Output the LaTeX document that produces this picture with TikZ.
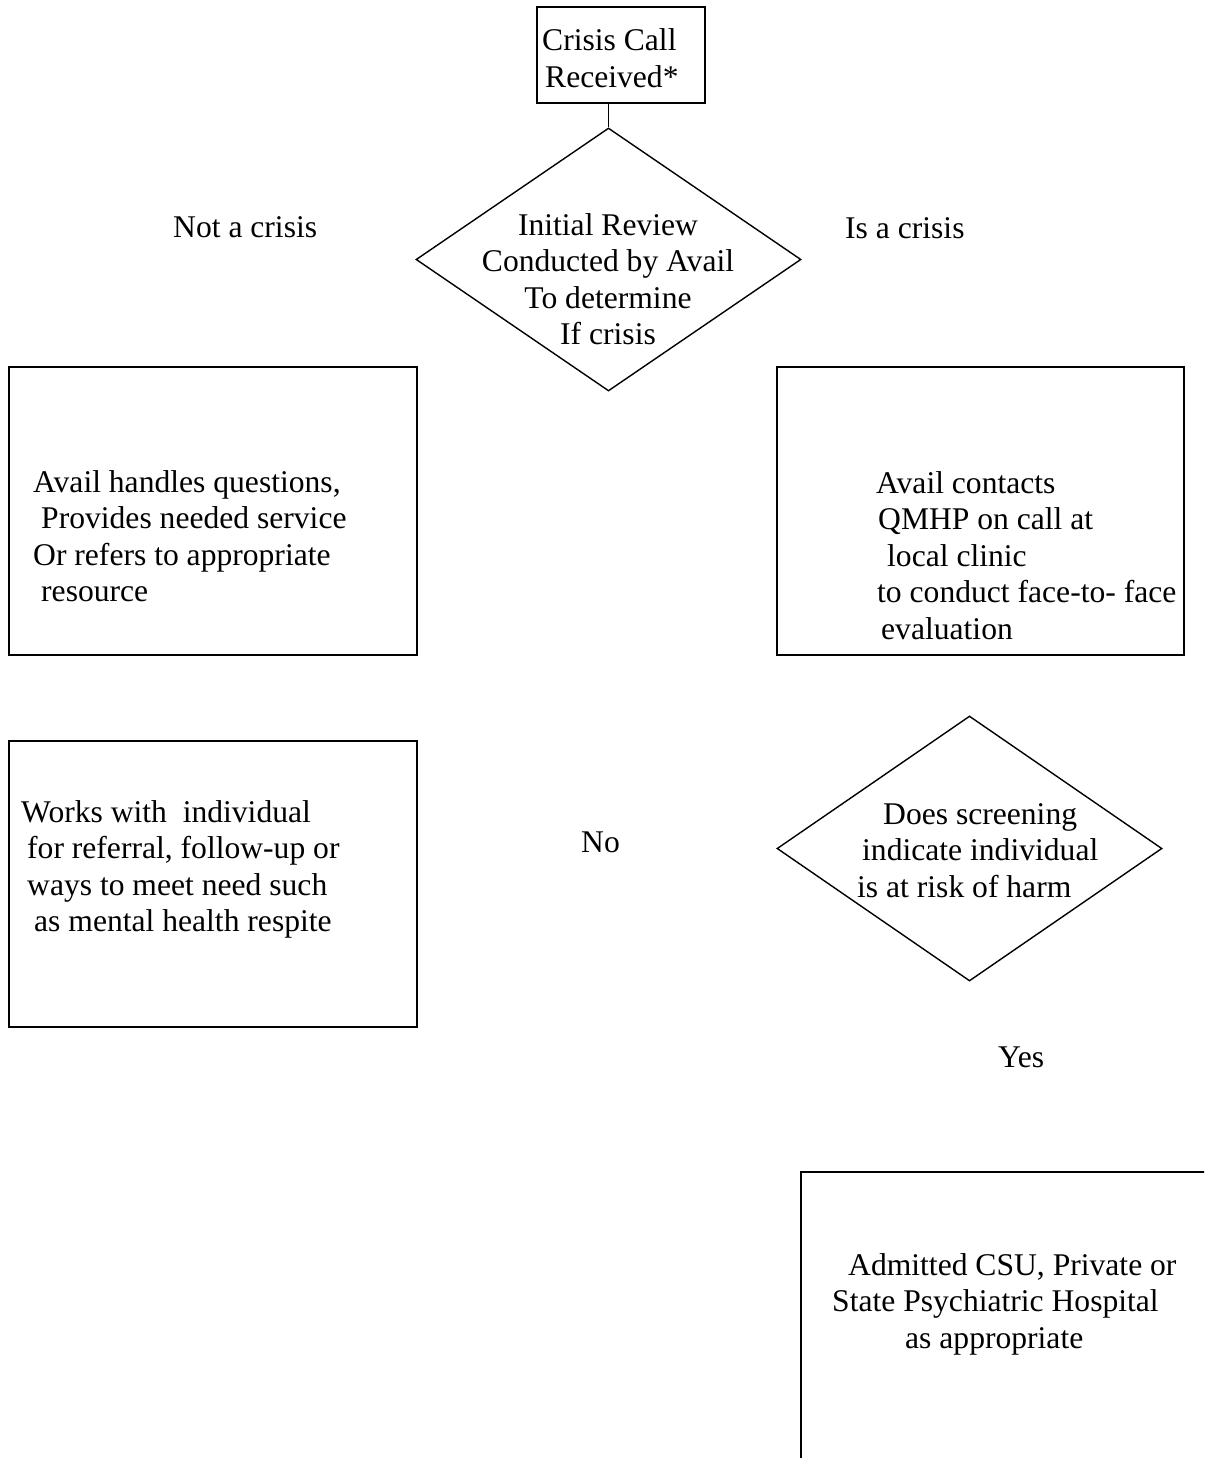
\documentclass[tikz,border=0pt]{standalone}
\usepackage{fontspec}
\setmainfont{Liberation Serif}
\usetikzlibrary{shapes.geometric}
\begin{document}
\begin{tikzpicture}[x=1pt,y=-1pt,
  box/.style={draw,line width=2.4pt,inner sep=0pt},
  decision/.style={diamond,draw,line width=1.4pt,inner sep=0pt},
  txt/.style={inner sep=0pt,anchor=base west,align=left,font=\fontsize{31.6}{36.6}\selectfont},
  conn/.style={draw,line width=1.6pt}]
\clip (0,0) rectangle (1204,1458);
% shapes
\node[box,minimum width=168pt,minimum height=96pt] (call) at (621,55) {};
\node[decision,minimum width=385pt,minimum height=263pt] (init) at (608.5,259.5) {};
\node[box,minimum width=408pt,minimum height=288pt] (notbox) at (213,511) {};
\node[box,minimum width=407pt,minimum height=288pt] (isbox) at (980.5,511) {};
\node[box,minimum width=408pt,minimum height=286pt] (works) at (213,884) {};
\node[decision,minimum width=385pt,minimum height=265pt] (screen) at (969.5,848.5) {};
\node[box,minimum width=429pt,minimum height=308pt] (admit) at (1015.5,1326) {};
% connector
\draw[conn] (call.south -| init.north) -- (init.north);
% texts (multi-line nodes: base = baseline of last line)
\node[txt] (tcall) at (542,87.6) {Crisis Call\\\hspace*{3pt}Received*};
\node[txt,anchor=base,align=center] (tinit) at (608,344.8) {Initial Review\\Conducted by Avail\\To determine\\If crisis};
\node[txt] (lnot) at (173,237) {Not a crisis};
\node[txt] (lis) at (845,238) {Is a crisis};
\node[txt] (tnot) at (33,601.8) {Avail handles questions,\\\hspace*{8pt}Provides needed service\\Or refers to appropriate\\\hspace*{8pt}resource};
\node[txt] (tis) at (876,639.4) {Avail contacts\\\hspace*{2pt}QMHP on call at\\\hspace*{11pt}local clinic\\\hspace*{1pt}to conduct face-to- face\\\hspace*{5pt}evaluation};
\node[txt] (tworks) at (21,931.8) {Works with\ \ individual\\\hspace*{6pt}for referral, follow-up or\\\hspace*{6pt}ways to meet need such\\\hspace*{13pt}as mental health respite};
\node[txt] (lno) at (581,852) {No};
\node[txt] (tscreen) at (857,897.2) {\hspace*{26pt}Does screening\\\hspace*{5pt}indicate individual\\is at risk of harm};
\node[txt] (lyes) at (998,1067) {Yes};
\node[txt] (tadmit) at (832,1348.2) {\hspace*{16pt}Admitted CSU, Private or\\State Psychiatric Hospital\\\hspace*{73pt}as appropriate};
\end{tikzpicture}
\end{document}
